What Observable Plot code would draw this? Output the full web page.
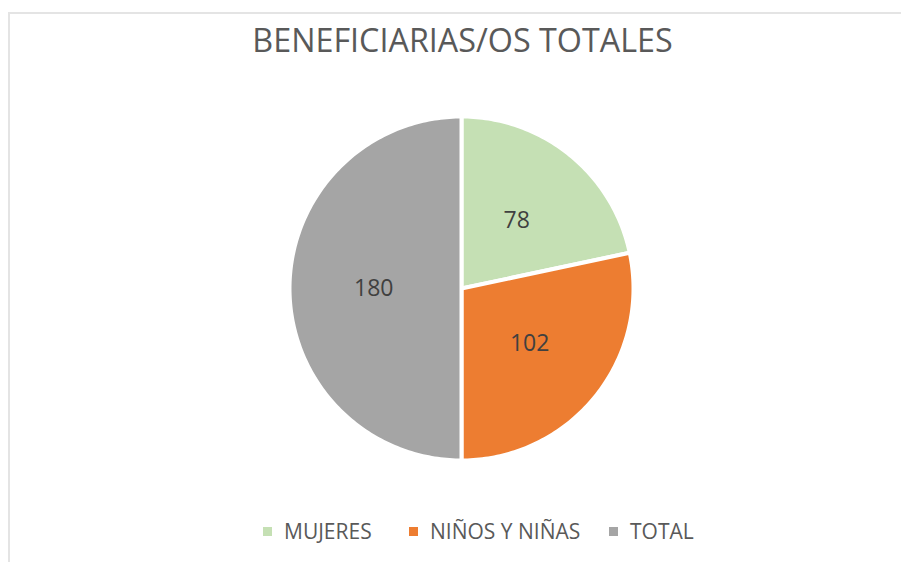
<!DOCTYPE html>
<html><head><meta charset="utf-8">
<script src="https://cdn.jsdelivr.net/npm/d3@7"></script>
<script src="https://cdn.jsdelivr.net/npm/@observablehq/plot@0.6"></script>
<style>
html,body{margin:0;padding:0;background:#fff;}
#wrap{position:relative;width:901px;height:562px;overflow:hidden;font-family:"Open Sans",sans-serif;}
#frame{position:absolute;left:8px;top:12px;width:1000px;height:700px;border-left:2px solid #e4e4e4;border-top:2px solid #e4e4e4;}
#title{position:absolute;left:0;width:925px;top:23px;text-align:center;font-size:32.3px;line-height:33px;color:#595959;white-space:nowrap;}
#chart{position:absolute;left:0;top:73px;}
#legend{position:absolute;left:0;top:521px;width:901px;height:22px;font-size:21px;line-height:21px;color:#595959;white-space:nowrap;}
#legend .item{position:absolute;top:0;display:flex;align-items:center;}
#legend .sw{width:9px;height:9px;margin-right:12px;}
</style>
</head><body>
<div id="wrap">
  <div id="frame"></div>
  <div id="title">BENEFICIARIAS/OS TOTALES</div>
  <div id="chart"></div>
  <div id="legend"></div>
</div>
<script>
const categories = ["MUJERES", "NIÑOS Y NIÑAS", "TOTAL"];
const values = [78, 102, 180];
const colors = ["#C5E0B4", "#ED7D31", "#A5A5A5"];
const legendLeft = [263, 409, 609];

const arcs = d3.pie().sort(null).value(d => d)(values);
const slicePts = [];
const labels = [];
arcs.forEach((p, i) => {
  const c = categories[i];
  const n = Math.max(2, Math.ceil((p.endAngle - p.startAngle) / (Math.PI / 180)));
  slicePts.push({c, x: 0, y: 0});
  for (let k = 0; k <= n; k++) {
    const a = p.startAngle + (p.endAngle - p.startAngle) * k / n;
    slicePts.push({c, x: Math.sin(a), y: Math.cos(a)});
  }
  slicePts.push({c, x: 0, y: 0});
  const m = (p.startAngle + p.endAngle) / 2;
  labels.push({c, v: values[i], x: 0.51 * Math.sin(m), y: 0.51 * Math.cos(m)});
});

const plot = Plot.plot({
  width: 901,
  height: 430,
  margin: 0,
  style: {fontFamily: "Open Sans", background: "transparent"},
  x: {domain: [-1, 1], range: [289, 633], axis: null},
  y: {domain: [-1, 1], range: [387, 43], axis: null},
  color: {domain: categories, range: colors},
  marks: [
    Plot.line(slicePts, {x: "x", y: "y", z: "c", fill: "c", stroke: "white", strokeWidth: 4, strokeLinejoin: "round"}),
    Plot.text(labels, {x: "x", y: "y", text: d => String(d.v), fill: "#404040", fontSize: 23})
  ]
});
document.getElementById("chart").appendChild(plot);

const legend = document.getElementById("legend");
categories.forEach((c, i) => {
  const it = document.createElement("div");
  it.className = "item";
  it.style.left = legendLeft[i] + "px";
  const sw = document.createElement("span");
  sw.className = "sw";
  sw.style.background = colors[i];
  const t = document.createElement("span");
  t.textContent = c;
  it.appendChild(sw); it.appendChild(t);
  legend.appendChild(it);
});
</script>
</body></html>
